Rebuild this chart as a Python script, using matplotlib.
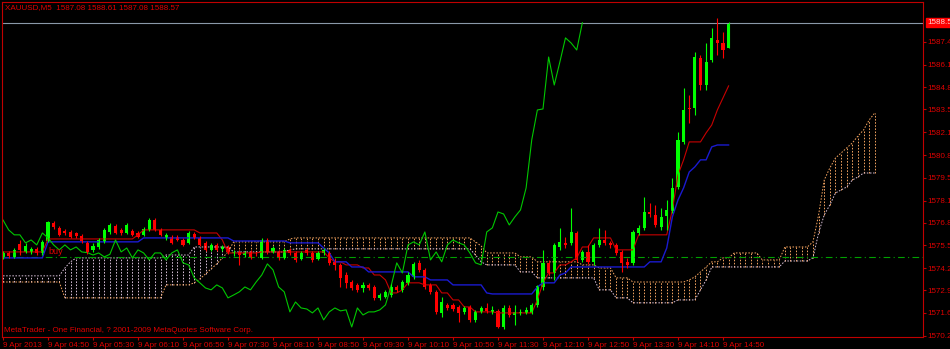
import numpy as np
import matplotlib
matplotlib.use("Agg")
import matplotlib.pyplot as plt

plt.rcParams['font.family'] = ['Liberation Sans', 'DejaVu Sans']

# XAUUSD M5, 9 Apr 2013, bar 0 = 04:10
opens = [
    1574.86, 1575.09, 1574.86, 1575.62, 1575.15, 1575.15, 1575.33, 1575.09, 1575.79, 1576.85,
    1576.56, 1576.38, 1576.32, 1576.26, 1576.09, 1575.68, 1575.27, 1575.44, 1575.74, 1576.32,
    1576.67, 1576.44, 1576.26, 1576.38, 1576.26, 1576.15, 1576.44, 1577.02, 1576.44, 1575.97,
    1576.03, 1576.03, 1575.85, 1575.68, 1576.20, 1575.97, 1575.68, 1575.27, 1575.56, 1575.33,
    1575.44, 1575.09, 1575.15, 1574.97, 1575.15, 1575.03, 1574.80, 1575.85, 1575.15, 1575.15,
    1574.80, 1575.27, 1575.09, 1574.74, 1575.27, 1575.09, 1574.74, 1575.09, 1575.09, 1574.57,
    1574.39, 1573.80, 1573.39, 1573.22, 1573.04, 1573.22, 1573.10, 1572.46, 1572.52, 1572.63,
    1573.10, 1572.93, 1573.34, 1573.69, 1574.51, 1574.10, 1573.22, 1572.81, 1571.58, 1572.05,
    1572.05, 1571.93, 1571.64, 1571.93, 1571.17, 1571.64, 1571.87, 1571.64, 1571.70, 1570.76,
    1571.87, 1571.46, 1571.58, 1571.58, 1571.58, 1572.05, 1573.10, 1574.51, 1573.92, 1575.44,
    1575.68, 1575.68, 1576.26, 1574.68, 1575.15, 1574.57, 1575.56, 1575.85, 1575.68, 1575.56,
    1575.15, 1574.57, 1574.51, 1576.26, 1576.56, 1577.49, 1577.32, 1576.61, 1577.26, 1577.55,
    1578.95, 1581.59, 1583.58, 1583.58, 1586.51, 1584.92, 1586.39, 1587.56, 1587.38, 1587.08,
]
highs = [
    1575.21, 1575.21, 1575.38, 1575.85, 1575.68, 1575.44, 1575.44, 1575.85, 1576.97, 1576.97,
    1576.67, 1576.50, 1576.44, 1576.32, 1576.20, 1575.79, 1575.68, 1575.97, 1576.56, 1576.85,
    1576.79, 1576.56, 1576.85, 1576.50, 1576.38, 1576.61, 1577.14, 1577.14, 1576.56, 1576.26,
    1576.15, 1576.15, 1575.97, 1576.38, 1576.32, 1576.09, 1575.79, 1575.68, 1575.68, 1575.56,
    1575.56, 1575.27, 1575.27, 1575.21, 1575.27, 1575.15, 1575.97, 1575.97, 1575.50, 1575.27,
    1575.38, 1575.38, 1575.21, 1575.21, 1575.38, 1575.21, 1575.21, 1575.38, 1575.21, 1574.80,
    1574.51, 1573.98, 1573.51, 1573.34, 1573.39, 1573.34, 1573.22, 1572.75, 1572.93, 1573.28,
    1573.22, 1573.51, 1573.98, 1574.57, 1574.68, 1574.21, 1573.34, 1572.93, 1572.52, 1572.17,
    1572.17, 1572.05, 1572.00, 1572.05, 1571.76, 1572.00, 1572.17, 1572.00, 1571.81, 1572.05,
    1572.05, 1572.05, 1571.81, 1571.93, 1572.17, 1573.22, 1575.27, 1574.68, 1575.68, 1576.56,
    1576.03, 1577.73, 1576.38, 1575.27, 1575.56, 1575.68, 1576.56, 1576.44, 1575.79, 1575.68,
    1575.27, 1574.80, 1576.44, 1576.73, 1578.37, 1578.02, 1577.90, 1577.73, 1578.19, 1579.48,
    1582.17, 1584.75, 1584.34, 1586.86, 1586.68, 1587.38, 1588.26, 1588.85, 1588.03, 1588.61,
]
lows = [
    1574.74, 1574.80, 1574.80, 1574.97, 1575.09, 1575.03, 1574.97, 1574.97, 1575.74, 1576.50,
    1576.09, 1576.15, 1575.97, 1575.97, 1575.68, 1575.03, 1575.15, 1575.33, 1575.68, 1576.20,
    1576.20, 1576.15, 1576.20, 1576.09, 1575.97, 1576.09, 1576.38, 1576.38, 1576.09, 1575.85,
    1575.62, 1575.79, 1575.50, 1575.62, 1575.91, 1575.50, 1575.21, 1575.21, 1575.21, 1575.21,
    1575.03, 1574.92, 1574.39, 1574.86, 1574.74, 1574.92, 1574.74, 1575.03, 1575.09, 1574.68,
    1574.74, 1574.97, 1574.57, 1574.68, 1574.97, 1574.57, 1574.68, 1574.97, 1574.39, 1574.10,
    1573.10, 1573.04, 1572.93, 1572.81, 1572.81, 1572.93, 1572.34, 1572.34, 1572.46, 1572.52,
    1572.81, 1572.81, 1573.22, 1573.57, 1573.98, 1572.98, 1572.69, 1571.52, 1571.35, 1571.76,
    1571.70, 1571.06, 1571.52, 1571.06, 1571.06, 1571.58, 1571.58, 1571.52, 1570.70, 1570.64,
    1571.35, 1570.88, 1571.46, 1571.52, 1571.52, 1571.93, 1572.93, 1573.80, 1573.51, 1575.27,
    1575.38, 1575.56, 1574.57, 1574.57, 1574.45, 1574.39, 1575.44, 1575.56, 1575.38, 1574.97,
    1573.98, 1574.21, 1574.39, 1576.15, 1576.44, 1577.20, 1576.61, 1576.44, 1576.44, 1577.43,
    1578.84, 1581.47, 1582.70, 1583.17, 1584.63, 1584.63, 1586.27, 1586.68, 1586.51, 1587.08,
]
closes = [
    1575.09, 1574.92, 1575.27, 1575.27, 1575.50, 1575.33, 1575.09, 1575.74, 1576.91, 1576.61,
    1576.15, 1576.26, 1576.03, 1576.09, 1575.79, 1575.15, 1575.50, 1575.85, 1576.44, 1576.73,
    1576.26, 1576.26, 1576.73, 1576.15, 1576.03, 1576.50, 1577.02, 1576.44, 1576.15, 1576.15,
    1575.68, 1575.85, 1575.56, 1576.26, 1575.97, 1575.56, 1575.27, 1575.56, 1575.27, 1575.44,
    1575.15, 1575.11, 1574.97, 1575.09, 1574.86, 1575.01, 1575.85, 1575.15, 1575.38, 1574.80,
    1575.27, 1575.09, 1574.68, 1575.09, 1575.09, 1574.68, 1575.09, 1575.27, 1574.51, 1574.39,
    1573.63, 1573.34, 1573.04, 1572.93, 1573.22, 1573.04, 1572.46, 1572.63, 1572.81, 1573.10,
    1572.93, 1573.39, 1573.80, 1574.45, 1574.10, 1573.10, 1572.81, 1571.64, 1572.22, 1571.87,
    1571.81, 1571.58, 1571.87, 1571.17, 1571.64, 1571.87, 1571.70, 1571.76, 1570.76, 1571.87,
    1571.46, 1571.64, 1571.64, 1571.76, 1572.05, 1573.16, 1574.51, 1573.92, 1575.56, 1575.74,
    1575.56, 1576.32, 1574.68, 1575.15, 1574.57, 1575.56, 1575.85, 1575.68, 1575.56, 1575.09,
    1574.51, 1574.39, 1576.32, 1576.56, 1577.49, 1577.37, 1576.73, 1577.20, 1577.61, 1578.90,
    1581.71, 1583.46, 1583.52, 1586.56, 1584.92, 1586.27, 1587.68, 1587.38, 1586.97, 1588.57,
]

# ichimoku lines as (first bar, level) runs
tenkan_runs = [(0, 1575.15), (8, 1575.91), (24, 1576.15), (25, 1576.44), (35, 1576.26), (39, 1575.85),
               (40, 1575.09), (46, 1575.15), (58, 1574.80), (59, 1574.57), (61, 1574.39), (64, 1574.21),
               (66, 1573.80), (68, 1573.51), (69, 1572.75), (71, 1572.93), (72, 1573.34), (75, 1573.22),
               (78, 1572.75), (80, 1572.34), (82, 1571.93), (84, 1571.64), (88, 1571.58), (95, 1572.34),
               (96, 1573.34), (97, 1573.92), (99, 1574.39), (101, 1574.57), (102, 1574.80), (103, 1575.44),
               (105, 1575.97), (109, 1575.27), (113, 1576.15), (119, 1577.61), (120, 1579.66), (121, 1580.54),
               (122, 1581.59), (125, 1582.12), (126, 1582.58), (127, 1583.46), (128, 1584.16), (129, 1584.87)]
kijun_runs = [(0, 1574.80), (8, 1575.74), (25, 1575.97), (41, 1575.79), (51, 1575.68), (57, 1575.38),
              (58, 1575.09), (59, 1574.57), (62, 1574.27), (65, 1573.98), (73, 1573.69), (76, 1573.51),
              (80, 1573.22), (86, 1572.75), (87, 1572.69), (95, 1573.10), (96, 1573.34), (99, 1573.80),
              (100, 1573.92), (101, 1574.27), (115, 1574.57), (118, 1575.38), (119, 1577.20), (120, 1578.19),
              (121, 1578.90), (122, 1579.83), (123, 1580.13), (124, 1580.54), (126, 1581.30), (127, 1581.41)]
span_a_runs = [(0, 1573.39), (11, 1572.46), (29, 1573.22), (34, 1573.34), (35, 1573.57), (36, 1573.86),
               (37, 1574.16), (38, 1574.45), (39, 1574.80), (40, 1575.15), (41, 1575.74), (51, 1575.91),
               (52, 1575.97), (84, 1575.74), (85, 1575.50), (86, 1575.09), (92, 1574.86), (95, 1574.57),
               (103, 1574.39), (106, 1574.21), (109, 1573.63), (112, 1573.39), (122, 1573.51), (123, 1573.69),
               (124, 1573.98), (125, 1574.27), (126, 1574.57), (128, 1574.80), (130, 1575.09), (135, 1574.68),
               (139, 1575.44), (144, 1575.74), (145, 1577.32), (146, 1579.36), (147, 1580.07), (148, 1580.65),
               (149, 1580.94), (150, 1581.24), (151, 1581.53), (152, 1581.94), (153, 1582.29), (154, 1582.88),
               (155, 1583.29)]
span_b_runs = [(0, 1573.75), (11, 1574.21), (12, 1574.57), (13, 1574.80), (29, 1574.97), (34, 1575.44),
               (41, 1575.15), (51, 1575.27), (52, 1575.33), (84, 1574.97), (85, 1574.57), (86, 1574.39),
               (92, 1573.98), (95, 1573.63), (106, 1572.93), (109, 1572.46), (112, 1572.17), (120, 1572.34),
               (124, 1572.93), (125, 1573.51), (126, 1574.27), (139, 1574.62), (144, 1574.80), (145, 1576.26),
               (146, 1577.32), (147, 1577.90), (148, 1578.60), (149, 1578.78), (150, 1578.95), (151, 1579.36),
               (152, 1579.54), (153, 1579.77)]

bid = 1588.57
level_line = 1574.86
chikou_shift = 26
cloud_len = 156

ytick_vals = [1587.45, 1586.10, 1584.80, 1583.50, 1582.15, 1580.80, 1579.50, 1578.15,
              1576.85, 1575.55, 1574.20, 1572.90, 1571.60, 1570.25]
xtick_bars = list(range(0, 129, 8))
xtick_labels = ['9 Apr 2013', '9 Apr 04:50', '9 Apr 05:30', '9 Apr 06:10', '9 Apr 06:50',
                '9 Apr 07:30', '9 Apr 08:10', '9 Apr 08:50', '9 Apr 09:30', '9 Apr 10:10',
                '9 Apr 10:50', '9 Apr 11:30', '9 Apr 12:10', '9 Apr 12:50', '9 Apr 13:30',
                '9 Apr 14:10', '9 Apr 14:50']


def expand(runs, n):
    out = np.empty(n)
    for k, (s, v) in enumerate(runs):
        e = runs[k + 1][0] if k + 1 < len(runs) else n
        out[s:e] = v
    return out


RED = '#e00000'
FRAME = '#c00000'

o = np.array(opens); h = np.array(highs); l = np.array(lows); c = np.array(closes)
n = len(o)
x = np.arange(n)

fig = plt.figure(figsize=(9.5, 3.49), dpi=100, facecolor='black')
ax = fig.add_axes([2 / 950, 12 / 349, 921 / 950, 335 / 349])
ax.set_facecolor('black')

# cloud: dotted verticals between the spans
sa = expand(span_a_runs, cloud_len)
sb = expand(span_b_runs, cloud_len)
cx = np.arange(cloud_len)
up = sa >= sb
dot = (0, (1.6, 1.6))
ax.vlines(cx[up], sb[up], sa[up], colors='#f4a460', linestyles=dot, lw=0.7)
ax.vlines(cx[~up], sa[~up], sb[~up], colors='#d8bfd8', linestyles=dot, lw=0.7)
ax.plot(cx, sa, color='#f4a460', ls=dot, lw=0.7)
ax.plot(cx, sb, color='#d8bfd8', ls=dot, lw=0.7)

# horizontal lines
ax.axhline(level_line, color='#00a000', ls=(0, (6, 3, 1, 3)), lw=0.8)
ax.axhline(bid, color='#8a98a8', lw=0.8)

# ichimoku lines
ax.plot(x, expand(tenkan_runs, n), color='#c80000', lw=0.8)
ax.plot(x, expand(kijun_runs, n), color='#1a1ad0', lw=1.0)
ax.plot(x[:n - chikou_shift], c[chikou_shift:], color='#00c800', lw=0.8)

# candles
bull = c >= o
ax.vlines(x[bull], l[bull], h[bull], colors='#00ff00', lw=0.8)
ax.vlines(x[~bull], l[~bull], h[~bull], colors='#ff0000', lw=0.8)
body_lo = np.minimum(o, c)
body_h = np.maximum(np.abs(c - o), 0.03)
ax.bar(x[bull], body_h[bull], bottom=body_lo[bull], width=0.55, color='#00ff00', lw=0)
ax.bar(x[~bull], body_h[~bull], bottom=body_lo[~bull], width=0.55, color='#ff0000', lw=0)

ax.text(8, 1575.15, 'buy', color=RED, fontsize=6.5, va='center', ha='left')

ax.set_xlim(-0.18, 163.56)
ax.set_ylim(1570.17, 1589.78)

ax.yaxis.tick_right()
ax.set_yticks(ytick_vals)
ax.set_yticklabels([f'{v:.2f}' for v in ytick_vals])
ax.set_xticks(xtick_bars)
ax.set_xticklabels(xtick_labels)
for t in ax.get_xticklabels():
    t.set_ha('left')
ax.tick_params(axis='both', colors=FRAME, labelcolor=RED, labelsize=5.8, length=2.5, width=0.8, pad=1)
for s in ax.spines.values():
    s.set_color(FRAME)
    s.set_linewidth(0.8)

ax.annotate(f'{bid:.2f}', xy=(1, bid), xycoords=('axes fraction', 'data'),
            xytext=(3, 0), textcoords='offset points', ha='left', va='center',
            fontsize=5.8, color='#ffd8d8',
            bbox=dict(boxstyle='square,pad=0.15', fc='#ff0000', ec='#ff0000'))

fig.text(5 / 950, 1 - 8 / 349, 'XAUUSD,M5  1587.08 1588.61 1587.08 1588.57',
         color=RED, fontsize=5.8, va='center', ha='left')
fig.text(4 / 950, 1 - 331 / 349, 'MetaTrader - One Financial, ? 2001-2009 MetaQuotes Software Corp.',
         color=RED, fontsize=5.8, va='center', ha='left')

fig.savefig('out.png', dpi=100, facecolor='black')
